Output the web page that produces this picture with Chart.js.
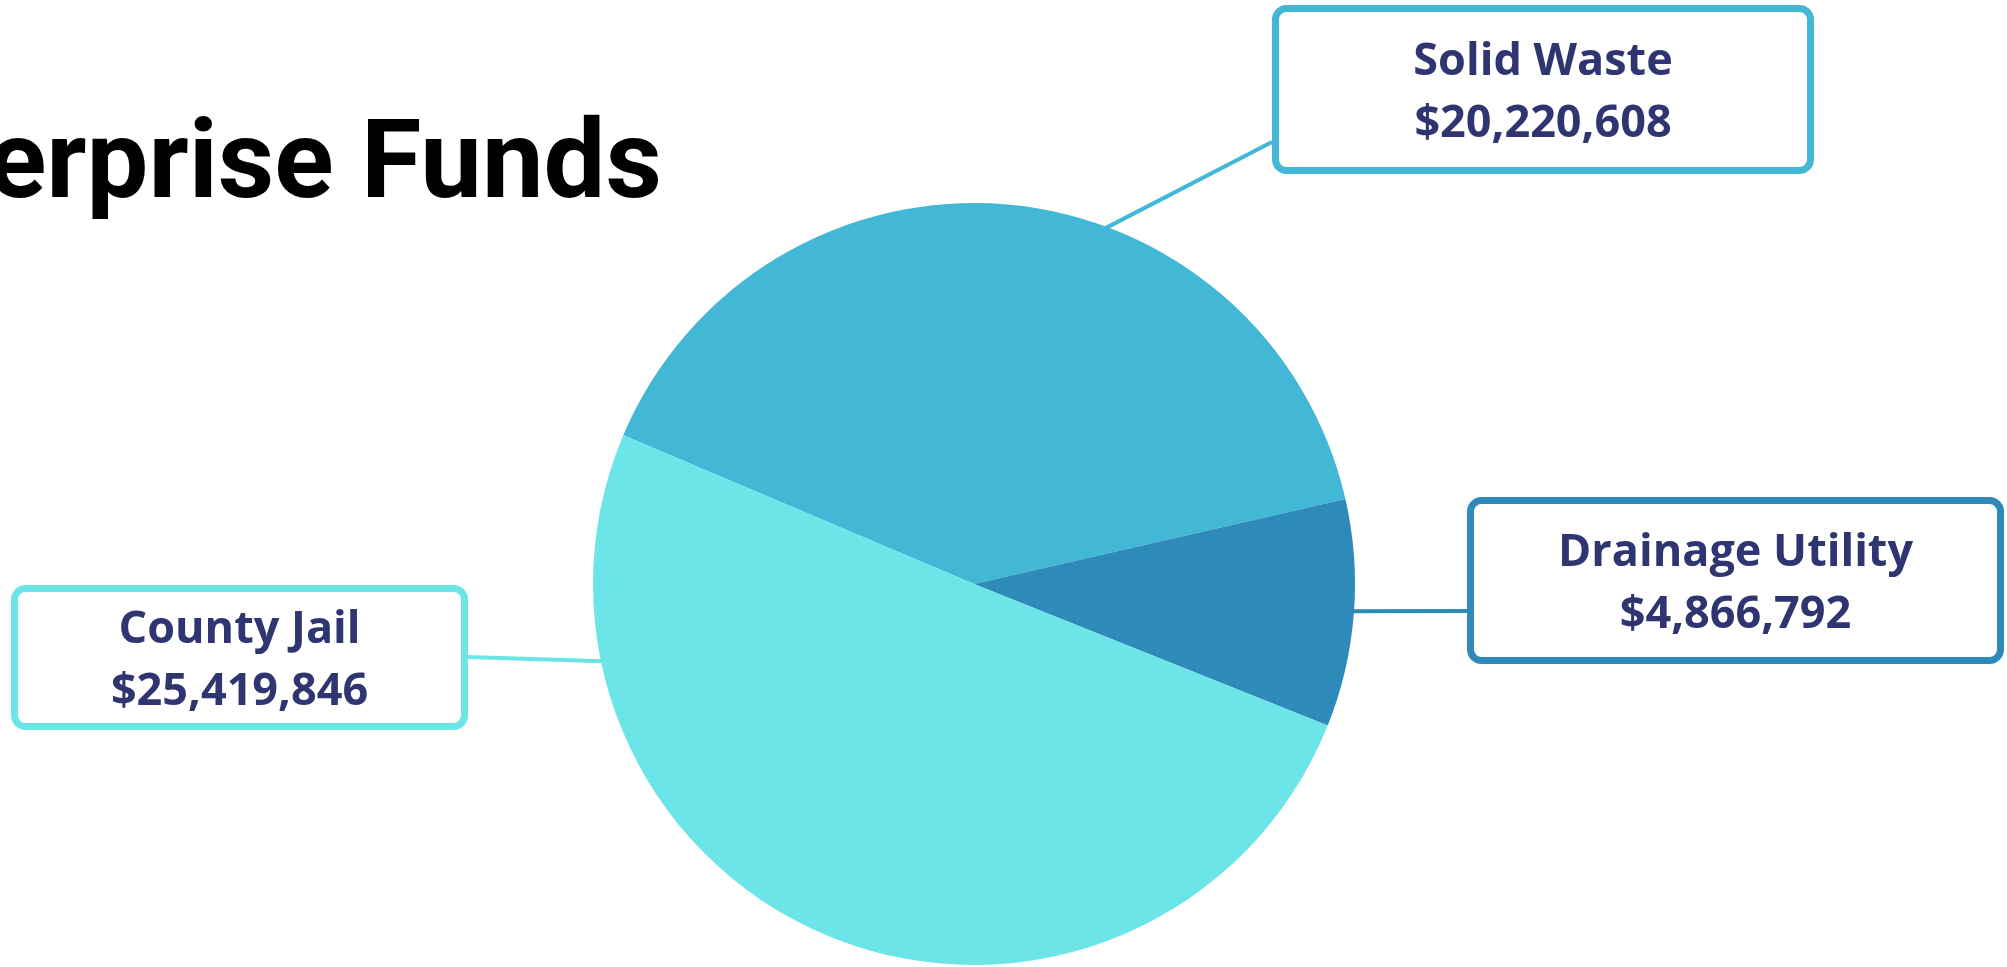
<!DOCTYPE html>
<html>
<head>
<meta charset="utf-8">
<script src="https://cdn.jsdelivr.net/npm/chart.js@4.4.1/dist/chart.umd.min.js"></script>
<style>
  html, body { margin: 0; padding: 0; background: #fff; overflow: hidden; }
  #wrap { position: relative; width: 2007px; height: 967px; }
</style>
</head>
<body>
<div id="wrap"><canvas id="pie" width="2007" height="967"></canvas></div>
<script>
// data
const categories = ["Solid Waste", "Drainage Utility", "County Jail"];
const amounts = [20220608, 4866792, 25419846];
const sliceColors = ["#43B7D6", "#2E8BB9", "#6CE5E8"];

const TEXT_COLOR = "#2E3570";

// callout boxes: box rect, point where the connector meets the box, angle (deg) where it meets the pie
const callouts = {
  "Solid Waste":      { x: 1272, y: 5,   w: 542, h: 169, lx: 1272, ly: 142, angle: -69.5 },
  "Drainage Utility": { x: 1467, y: 497, w: 537, h: 167, lx: 1467, ly: 611, angle: 4.1 },
  "County Jail":      { x: 11,   y: 585, w: 457, h: 145, lx: 468,  ly: 657, angle: 168.3 },
};

function roundRect(ctx, x, y, w, h, r) {
  ctx.beginPath();
  ctx.moveTo(x + r, y);
  ctx.arcTo(x + w, y, x + w, y + h, r);
  ctx.arcTo(x + w, y + h, x, y + h, r);
  ctx.arcTo(x, y + h, x, y, r);
  ctx.arcTo(x, y, x + w, y, r);
  ctx.closePath();
}

const calloutPlugin = {
  id: "callouts",
  beforeDatasetsDraw(chart) {
    // connectors run a little under the pie edge
    const ctx = chart.ctx;
    const arcs = chart.getDatasetMeta(0).data;
    ctx.save();
    arcs.forEach((arc, i) => {
      const c = callouts[categories[i]];
      const a = c.angle * Math.PI / 180;
      const px = arc.x + Math.cos(a) * arc.outerRadius;
      const py = arc.y + Math.sin(a) * arc.outerRadius;
      const len = Math.hypot(px - c.lx, py - c.ly);
      const ex = px + (px - c.lx) / len * 25;
      const ey = py + (py - c.ly) / len * 25;
      ctx.strokeStyle = sliceColors[i];
      ctx.lineWidth = 4;
      ctx.beginPath();
      ctx.moveTo(c.lx, c.ly);
      ctx.lineTo(ex, ey);
      ctx.stroke();
    });
    ctx.restore();
  },
  afterDraw(chart) {
    const ctx = chart.ctx;
    ctx.save();

    // title (left part runs off the page, as in the slide)
    ctx.fillStyle = "#000";
    ctx.font = "bold 110px Roboto";
    ctx.textAlign = "right";
    ctx.textBaseline = "alphabetic";
    ctx.fillText("Enterprise Funds", 662, 197);

    categories.forEach((name, i) => {
      const c = callouts[name];
      ctx.fillStyle = "#fff";
      ctx.strokeStyle = sliceColors[i];
      ctx.lineWidth = 7;
      roundRect(ctx, c.x + 3.5, c.y + 3.5, c.w - 7, c.h - 7, 11);
      ctx.fill();
      ctx.stroke();

      const cx = c.x + c.w / 2;
      const cy = c.y + c.h / 2 + 16;
      ctx.fillStyle = TEXT_COLOR;
      ctx.font = "bold 45px 'Open Sans'";
      ctx.textAlign = "center";
      ctx.fillText(name, cx, cy - 31);
      ctx.fillText("$" + amounts[i].toLocaleString("en-US"), cx, cy + 31);
    });
    ctx.restore();
  },
};

new Chart(document.getElementById("pie"), {
  type: "pie",
  data: {
    labels: categories,
    datasets: [{
      data: amounts,
      backgroundColor: sliceColors,
      borderWidth: 0,
    }],
  },
  options: {
    responsive: false,
    animation: false,
    devicePixelRatio: 1,
    rotation: -67,
    layout: { padding: { left: 593, right: 652, top: 203, bottom: 2 } },
    plugins: {
      legend: { display: false },
      tooltip: { enabled: false },
    },
  },
  plugins: [calloutPlugin],
});
</script>
</body>
</html>
